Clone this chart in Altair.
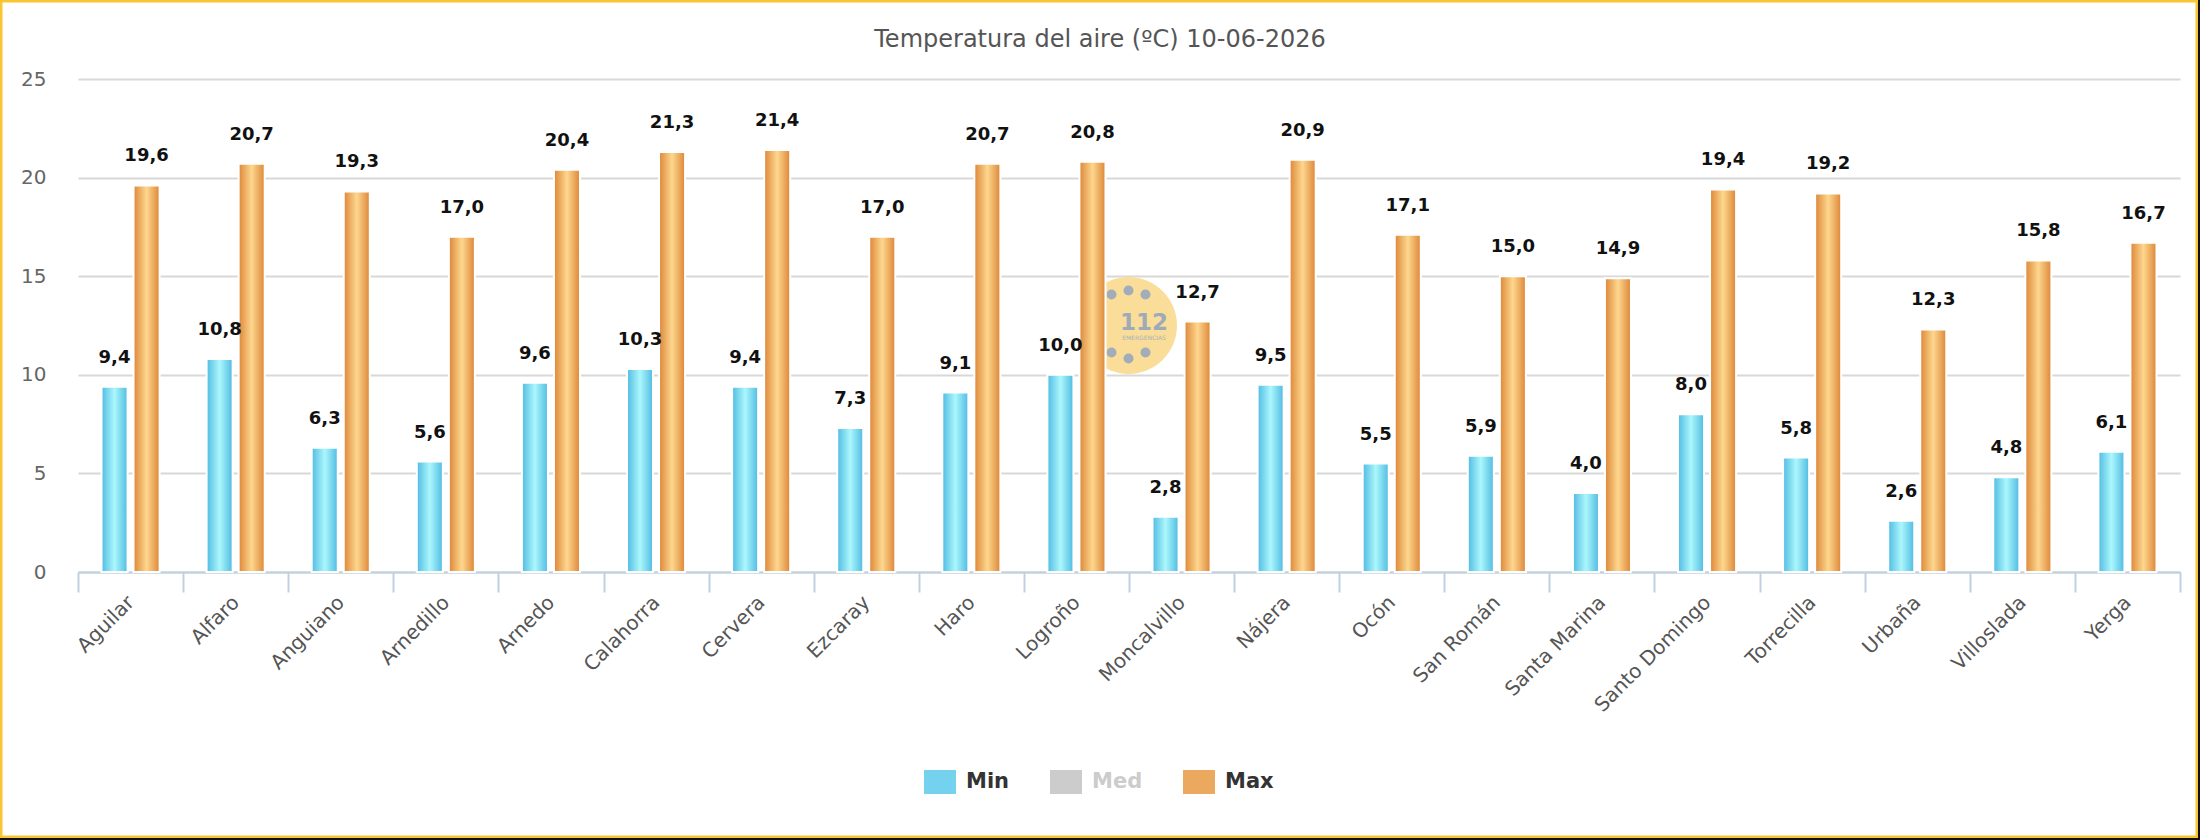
import altair as alt
import pandas as pd

# Weather stations and daily air temperatures (ºC)
stations = ["Aguilar", "Alfaro", "Anguiano", "Arnedillo", "Arnedo", "Calahorra",
            "Cervera", "Ezcaray", "Haro", "Logroño", "Moncalvillo", "Nájera",
            "Ocón", "San Román", "Santa Marina", "Santo Domingo", "Torrecilla",
            "Urbaña", "Villoslada", "Yerga"]
t_min = [9.4, 10.8, 6.3, 5.6, 9.6, 10.3, 9.4, 7.3, 9.1, 10.0,
         2.8, 9.5, 5.5, 5.9, 4.0, 8.0, 5.8, 2.6, 4.8, 6.1]
t_max = [19.6, 20.7, 19.3, 17.0, 20.4, 21.3, 21.4, 17.0, 20.7, 20.8,
         12.7, 20.9, 17.1, 15.0, 14.9, 19.4, 19.2, 12.3, 15.8, 16.7]
series = ["Min", "Med", "Max"]          # "Med" is listed in the legend but switched off
shown_series = ["Min", "Max"]
y_ticks = [0, 5, 10, 15, 20, 25]
title_text = "Temperatura del aire (ºC) 10-06-2026"

rows = []
for st, lo, hi in zip(stations, t_min, t_max):
    rows.append({"estacion": st, "serie": "Min", "valor": lo})
    rows.append({"estacion": st, "serie": "Max", "valor": hi})
df = pd.DataFrame(rows)
df["etiqueta"] = df["valor"].map(lambda v: f"{v:.1f}".replace(".", ","))

# Layout of the plot area inside the 2200 x 840 canvas
LEFT, TOP, RIGHT, BOTTOM = 78, 79, 20, 268
W = 2200 - LEFT - RIGHT
H = 840 - TOP - BOTTOM


def gradient(edge, centre):
    return alt.LinearGradient(
        gradient="linear", x1=0, y1=0, x2=1, y2=0,
        stops=[alt.GradientStop(offset=0, color=edge),
               alt.GradientStop(offset=0.5, color=centre),
               alt.GradientStop(offset=1, color=edge)])


GRAD_MIN = gradient("#50bbe2", "#abf7fc")
GRAD_MAX = gradient("#dd8637", "#fdd78e")
legend_label_fill = "datum.value === 'Med' ? '#cccccc' : '#333333'"

x_enc = alt.X(
    "estacion:N", sort=stations,
    scale=alt.Scale(paddingInner=0, paddingOuter=0),
    axis=alt.Axis(title=None, labelAngle=-45, labelAlign="right", labelBaseline="middle",
                  labelFont="DejaVu Sans", labelFontSize=20, labelColor="#555555",
                  labelPadding=7, domainColor="#c0d0e0", domainWidth=2,
                  tickColor="#c0d0e0", tickWidth=2, tickSize=20, tickBand="extent",
                  grid=False, labelOverlap=False))
xoff_enc = alt.XOffset(
    "serie:N",
    scale=alt.Scale(domain=shown_series, paddingInner=0.1875, paddingOuter=0.734))
y_enc = alt.Y(
    "valor:Q",
    scale=alt.Scale(domain=[0, 25], nice=False, zero=True),
    axis=alt.Axis(title=None, values=y_ticks, grid=True, gridColor="#d8d8d8", gridWidth=2,
                  domain=False, ticks=False, labelFont="DejaVu Sans", labelFontSize=20,
                  labelColor="#666666", labelPadding=32))

base = alt.Chart(df).encode(x=x_enc, xOffset=xoff_enc, y=y_enc)

legend_layer = base.mark_bar(opacity=0).encode(
    color=alt.Color(
        "serie:N",
        scale=alt.Scale(domain=series, range=["#74d2ee", "#cccccc", "#eba95f"]),
        legend=alt.Legend(
            title=None, orient="none", legendX=846, legendY=687, direction="horizontal",
            symbolType="M-1,-0.75H1V0.75H-1Z", symbolSize=1024, symbolOpacity=1,
            symbolStrokeWidth=0, labelFont="DejaVu Sans", labelFontSize=21,
            labelFontWeight="bold", labelColor={"expr": legend_label_fill}, labelOffset=10,
            columnPadding=40, padding=0)))

bars_min = base.transform_filter(alt.datum.serie == "Min").mark_bar(
    color=GRAD_MIN, stroke="white", strokeWidth=2)
bars_max = base.transform_filter(alt.datum.serie == "Max").mark_bar(
    color=GRAD_MAX, stroke="white", strokeWidth=2)

labels = base.mark_text(font="DejaVu Sans", fontSize=18, fontWeight="bold",
                        color="#111111", baseline="alphabetic", dy=-24).encode(
    text="etiqueta:N")

# Chart title, centred on the canvas in the top margin
one = pd.DataFrame({"k": [0]})
title = alt.Chart(one).mark_text(
    text=title_text, font="DejaVu Sans", fontSize=24, color="#555555",
    align="center", baseline="alphabetic").encode(
    x=alt.value(1100 - LEFT), y=alt.value(47 - TOP))

# 112 emergencias watermark behind the bars
LX, LY = 1128.5 - LEFT, 325.5 - TOP
logo_disc = alt.Chart(one).mark_point(
    shape="circle", filled=True, size=9400, color="#fadd98", opacity=1).encode(
    x=alt.value(LX), y=alt.value(LY))
dots = pd.DataFrame({"dx": [-17, 0, 17, -17, 0, 17], "dy": [-31, -35, -31, 27, 33, 27]})
logo_dots = alt.Chart(dots).mark_point(
    shape="circle", filled=True, size=100, color="#a2adb9", opacity=1).transform_calculate(
    px=f"{LX} + datum.dx", py=f"{LY} + datum.dy").encode(
    x=alt.X("px:Q", scale=None), y=alt.Y("py:Q", scale=None))
logo_num = alt.Chart(one).mark_text(
    text="112", font="DejaVu Sans", fontSize=23, fontWeight="bold", color="#9eaab8",
    baseline="alphabetic").encode(x=alt.value(LX + 15.5), y=alt.value(LY + 4.5))
logo_sub = alt.Chart(one).mark_text(
    text="EMERGENCIAS", font="DejaVu Sans", fontSize=6, color="#a8b2bd",
    baseline="middle").encode(x=alt.value(LX + 15.5), y=alt.value(LY + 12))

# Outer frame: yellow border with a thin dark edge on the right and bottom
frame_dark = alt.Chart(one).mark_rect(fillOpacity=0, stroke="#111111", strokeWidth=4).encode(
    x=alt.value(-LEFT - 2), x2=alt.value(2200 - LEFT), y=alt.value(-TOP - 2),
    y2=alt.value(840 - TOP))
frame_yellow = alt.Chart(one).mark_rect(fillOpacity=0, stroke="#f9c631", strokeWidth=2.5).encode(
    x=alt.value(-LEFT + 1.25), x2=alt.value(2198 - LEFT - 1.25), y=alt.value(-TOP + 1.25),
    y2=alt.value(838 - TOP - 1.25))

chart = alt.layer(
    legend_layer, logo_disc, logo_dots, logo_num, logo_sub,
    bars_min, bars_max, labels, title, frame_dark, frame_yellow
).properties(
    width=W, height=H,
    autosize=alt.AutoSizeParams(type="none"),
    padding={"left": LEFT, "top": TOP, "right": RIGHT, "bottom": BOTTOM},
    background="white",
).configure_view(stroke=None)

chart.save("out.html", embed_options={"renderer": "svg", "actions": False})
